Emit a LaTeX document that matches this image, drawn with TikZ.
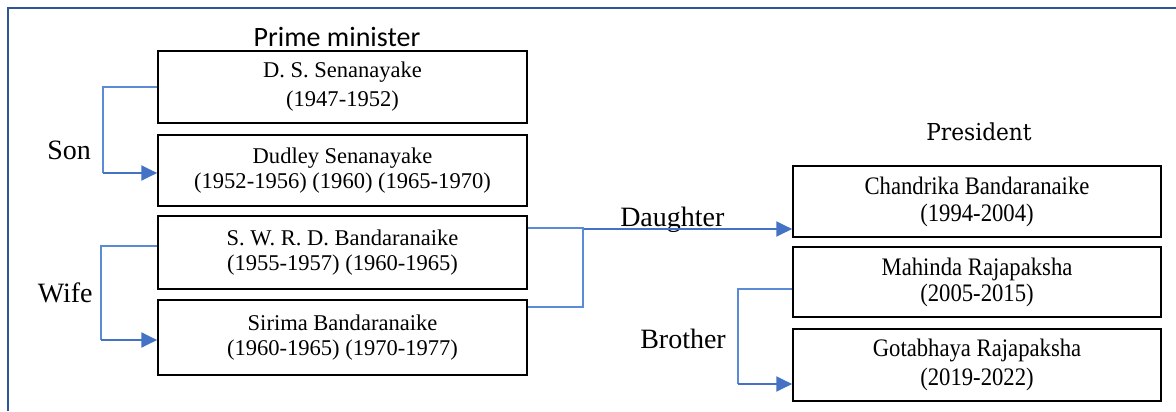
\documentclass[tikz,border=0pt]{standalone}
\usepackage{fontspec}
\setmainfont{Liberation Serif}
\newfontfamily\calibri{Carlito}
\newfontfamily\condserif[FakeStretch=0.9]{Liberation Serif}
\newfontfamily\slabserif[FakeStretch=0.93]{DejaVu Serif}
\usetikzlibrary{arrows.meta}
\definecolor{framecol}{HTML}{2F5597}
\definecolor{thincol}{HTML}{5B8BD6}
\definecolor{arrcol}{HTML}{4472C4}
\begin{document}
\begin{tikzpicture}[x=0.75pt,y=-0.75pt,
 pmbox/.style={draw=black, line width=1.1pt, minimum width=276.75pt, inner sep=0pt, align=center, font=\fontsize{16.9}{19.2}\selectfont},
 prbox/.style={draw=black, line width=1.1pt, minimum width=276pt, inner sep=0pt, align=center, font=\condserif\fontsize{18.9}{19.5}\selectfont},
 lbl/.style={font=\fontsize{21}{25}\selectfont, inner sep=0pt, anchor=base west},
 head/.style={font=\calibri\fontsize{21}{25}\selectfont, inner sep=0pt, anchor=base},
 elbow/.style={draw=thincol, line width=1.1pt},
 arrowseg/.style={draw=arrcol, line width=2.2pt, -{Triangle[length=12pt,width=11pt]}},
 frameline/.style={draw=framecol, line width=2pt}]
\useasboundingbox (0,0) rectangle (1176,411);
\draw[frameline] (8,411) -- (8,8) -- (1176,8);

% headings
\node[head] (pmhead) at (337,46.5) {Prime minister};
\node[head, font=\slabserif\fontsize{17.5}{21}\selectfont] (prhead) at (979,140.7) {President};

% prime minister boxes
\node[pmbox, minimum height=54pt, font=\fontsize{16.9}{21.75}\selectfont] (b1) at (342.5,87) {D. S. Senanayake\\(1947-1952)};
\node[pmbox, minimum height=53.25pt] (b2) at (342.5,170.5) {Dudley Senanayake\\(1952-1956) (1960) (1965-1970)};
\node[pmbox, minimum height=54.75pt] (b3) at (342.5,252.5) {S. W. R. D. Bandaranaike\\(1955-1957) (1960-1965)};
\node[pmbox, minimum height=56.25pt] (b4) at (342.5,337.5) {Sirima Bandaranaike\\(1960-1965) (1970-1977)};

% president boxes
\node[prbox, minimum height=53.25pt, font=\condserif\fontsize{18.9}{20.25}\selectfont] (p1) at (977,201.5) {Chandrika Bandaranaike\\(1994-2004)};
\node[prbox, minimum height=52.5pt] (p2) at (977,282) {Mahinda Rajapaksha\\(2005-2015)};
\node[prbox, minimum height=54pt, font=\condserif\fontsize{18.9}{21.75}\selectfont] (p3) at (977,365) {Gotabhaya Rajapaksha\\(2019-2022)};

% labels
\node[lbl] (son) at (47,159) {Son};
\node[lbl] (wife) at (37.5,302) {Wife};
\node[lbl] (daughter) at (620,226) {Daughter};
\node[lbl] (brother) at (640,348) {Brother};

% Son connector
\coordinate (sonbend) at (103,173);
\draw[elbow] (b1.west) -| (sonbend);
\draw[arrowseg] (sonbend) -- (sonbend -| b2.west);

% Wife connector
\coordinate (wifetop) at (101,246);
\coordinate (wifebend) at (101,340);
\draw[elbow] (wifetop -| b3.west) -- (wifetop) -- (wifebend);
\draw[arrowseg] (wifebend) -- (wifebend -| b4.west);

% Daughter connector
\coordinate (dtop) at (583,228);
\coordinate (dbot) at (583,307);
\coordinate (dstart) at (584,229);
\draw[elbow] (dtop -| b3.east) -- (dtop) -- (dbot) -- (dbot -| b4.east);
\draw[arrowseg] (dstart) -- (dstart -| p1.west);

% Brother connector
\coordinate (btop) at (738,289);
\coordinate (bbot) at (738,384);
\draw[elbow] (btop -| p2.west) -- (btop) -- (bbot);
\draw[arrowseg] (bbot) -- (bbot -| p3.west);
\end{tikzpicture}
\end{document}
